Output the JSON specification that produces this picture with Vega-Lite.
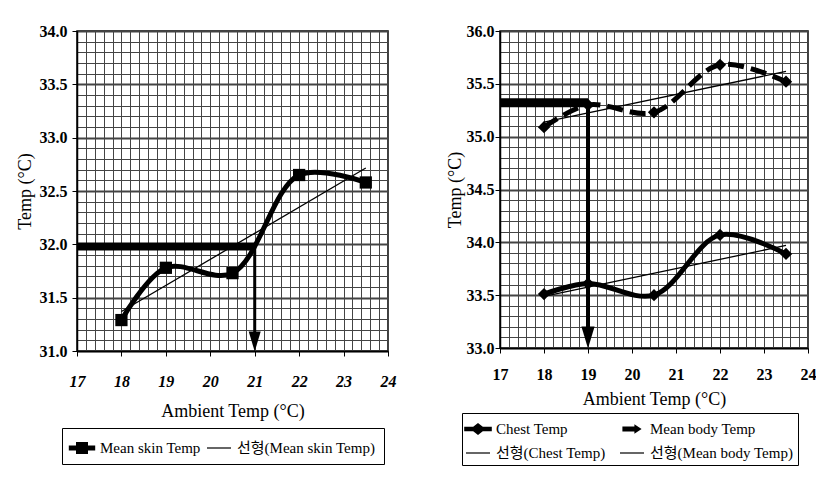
{
  "$schema": "https://vega.github.io/schema/vega-lite/v6.json",
  "padding": {"left": 15, "top": 22, "right": 0, "bottom": 0},
  "spacing": 48,
  "datasets": {
    "skin": [{"t": 18, "v": 31.29}, {"t": 19, "v": 31.78}, {"t": 20.5, "v": 31.73}, {"t": 22, "v": 32.65}, {"t": 23.5, "v": 32.58}],
    "chest": [{"t": 18, "v": 33.51}, {"t": 19, "v": 33.61}, {"t": 20.5, "v": 33.5}, {"t": 22, "v": 34.07}, {"t": 23.5, "v": 33.89}],
    "body": [{"t": 18, "v": 35.09}, {"t": 19, "v": 35.3}, {"t": 20.5, "v": 35.23}, {"t": 22, "v": 35.68}, {"t": 23.5, "v": 35.52}]
  },
  "hconcat": [
    {
      "width": 311,
      "height": 320,
      "encoding": {
        "x": {
          "field": "t", "type": "quantitative",
          "scale": {"domain": [17, 24], "nice": false, "zero": false},
          "axis": {
            "title": "Ambient Temp (°C)",
            "values": [17, 17.2, 17.4, 17.6, 17.8, 18, 18.2, 18.4, 18.6, 18.8, 19, 19.2, 19.4, 19.6, 19.8, 20, 20.2, 20.4, 20.6, 20.8, 21, 21.2, 21.4, 21.6, 21.8, 22, 22.2, 22.4, 22.6, 22.8, 23, 23.2, 23.4, 23.6, 23.8, 24],
            "labelExpr": "abs(datum.value - round(datum.value)) < 0.001 ? format(datum.value, 'd') : ''",
            "tickColor": {"condition": {"test": "abs(datum.value - round(datum.value)) < 0.001", "value": "black"}, "value": "transparent"},
            "tickSize": 5,
            "labelPadding": 17,
            "labelFontStyle": "italic",
            "titlePadding": 13
          }
        },
        "y": {
          "field": "v", "type": "quantitative",
          "scale": {"domain": [31, 34], "nice": false, "zero": false},
          "axis": {
            "title": "Temp (°C)",
            "values": [31, 31.1, 31.2, 31.3, 31.4, 31.5, 31.6, 31.7, 31.8, 31.9, 32, 32.1, 32.2, 32.3, 32.4, 32.5, 32.6, 32.7, 32.8, 32.9, 33, 33.1, 33.2, 33.3, 33.4, 33.5, 33.6, 33.7, 33.8, 33.9, 34],
            "labelExpr": "abs(datum.value * 2 - round(datum.value * 2)) < 0.001 ? format(datum.value, '.1f') : ''",
            "gridWidth": {"condition": {"test": "abs(datum.value * 2 - round(datum.value * 2)) < 0.001", "value": 1.8}, "value": 1},
            "tickColor": {"condition": {"test": "abs(datum.value * 2 - round(datum.value * 2)) < 0.001", "value": "black"}, "value": "transparent"},
            "tickSize": 5,
            "labelPadding": 5,
            "titlePadding": 5
          }
        }
      },
      "layer": [
        {"data": {"name": "skin"}, "transform": [{"regression": "v", "on": "t"}], "mark": {"type": "line", "color": "black", "strokeWidth": 1.3}},
        {"data": {"name": "skin"}, "mark": {"type": "line", "color": "black", "strokeWidth": 5, "interpolate": "catmull-rom"}},
        {"data": {"name": "skin"}, "mark": {"type": "point", "shape": "square", "filled": true, "color": "black", "size": 150, "opacity": 1}},
        {"data": {"values": [{"t": 17, "v": 31.98}, {"t": 21, "v": 31.98}]}, "mark": {"type": "line", "color": "black", "strokeWidth": 8, "strokeCap": "butt"}},
        {"data": {"values": [{"t": 21, "v": 31.98}, {"t": 21, "v": 31.15}]}, "mark": {"type": "line", "color": "black", "strokeWidth": 3}},
        {"data": {"values": [{"t": 21, "v": 31.09}]}, "mark": {"type": "point", "shape": "M-0.6,-1L0.6,-1L0,1Z", "filled": true, "color": "black", "size": 400, "opacity": 1}},
        {
          "data": {"values": []},
          "mark": {"type": "point", "filled": true, "color": "black", "size": 576, "opacity": 1},
          "encoding": {
            "shape": {
              "field": "s", "type": "nominal",
              "scale": {
                "domain": ["Mean skin Temp", "선형(Mean skin Temp)"],
                "range": ["M-1.1,-0.2H-0.5V-0.5H0.5V-0.2H1.1V0.2H0.5V0.5H-0.5V0.2H-1.1Z", "M-1,-0.05H1V0.05H-1Z"]
              },
              "legend": {"title": null, "orient": "none", "legendX": -15, "legendY": 397, "direction": "horizontal", "columns": 2, "padding": 8}
            }
          }
        }
      ]
    },
    {
      "width": 308,
      "height": 317,
      "encoding": {
        "x": {
          "field": "t", "type": "quantitative",
          "scale": {"domain": [17, 24], "nice": false, "zero": false},
          "axis": {
            "title": "Ambient Temp (°C)",
            "values": [17, 17.2, 17.4, 17.6, 17.8, 18, 18.2, 18.4, 18.6, 18.8, 19, 19.2, 19.4, 19.6, 19.8, 20, 20.2, 20.4, 20.6, 20.8, 21, 21.2, 21.4, 21.6, 21.8, 22, 22.2, 22.4, 22.6, 22.8, 23, 23.2, 23.4, 23.6, 23.8, 24],
            "labelExpr": "abs(datum.value - round(datum.value)) < 0.001 ? format(datum.value, 'd') : ''",
            "tickColor": {"condition": {"test": "abs(datum.value - round(datum.value)) < 0.001", "value": "black"}, "value": "transparent"},
            "tickSize": 5,
            "labelPadding": 13,
            "titlePadding": 8
          }
        },
        "y": {
          "field": "v", "type": "quantitative",
          "scale": {"domain": [33, 36], "nice": false, "zero": false},
          "axis": {
            "title": "Temp (°C)",
            "values": [33, 33.1, 33.2, 33.3, 33.4, 33.5, 33.6, 33.7, 33.8, 33.9, 34, 34.1, 34.2, 34.3, 34.4, 34.5, 34.6, 34.7, 34.8, 34.9, 35, 35.1, 35.2, 35.3, 35.4, 35.5, 35.6, 35.7, 35.8, 35.9, 36],
            "labelExpr": "abs(datum.value * 2 - round(datum.value * 2)) < 0.001 ? format(datum.value, '.1f') : ''",
            "gridWidth": {"condition": {"test": "abs(datum.value * 2 - round(datum.value * 2)) < 0.001", "value": 1.8}, "value": 1},
            "tickColor": {"condition": {"test": "abs(datum.value * 2 - round(datum.value * 2)) < 0.001", "value": "black"}, "value": "transparent"},
            "tickSize": 5,
            "labelPadding": 1,
            "titlePadding": 2
          }
        }
      },
      "layer": [
        {"data": {"name": "chest"}, "transform": [{"regression": "v", "on": "t"}], "mark": {"type": "line", "color": "black", "strokeWidth": 1.3}},
        {"data": {"name": "body"}, "transform": [{"regression": "v", "on": "t"}], "mark": {"type": "line", "color": "black", "strokeWidth": 1.3}},
        {"data": {"name": "chest"}, "mark": {"type": "line", "color": "black", "strokeWidth": 5, "interpolate": "catmull-rom"}},
        {"data": {"name": "chest"}, "mark": {"type": "point", "shape": "diamond", "filled": true, "color": "black", "size": 150, "opacity": 1}},
        {"data": {"name": "body"}, "mark": {"type": "line", "color": "black", "strokeWidth": 5, "strokeDash": [16, 7], "interpolate": "catmull-rom"}},
        {"data": {"name": "body"}, "mark": {"type": "point", "shape": "diamond", "filled": true, "color": "black", "size": 150, "opacity": 1}},
        {"data": {"values": [{"t": 17, "v": 35.32}, {"t": 19, "v": 35.32}]}, "mark": {"type": "line", "color": "black", "strokeWidth": 9, "strokeCap": "butt"}},
        {"data": {"values": [{"t": 19, "v": 35.32}, {"t": 19, "v": 33.15}]}, "mark": {"type": "line", "color": "black", "strokeWidth": 4}},
        {"data": {"values": [{"t": 19, "v": 33.1}]}, "mark": {"type": "point", "shape": "M-0.6,-1L0.6,-1L0,1Z", "filled": true, "color": "black", "size": 484, "opacity": 1}},
        {
          "data": {"values": []},
          "mark": {"type": "point", "filled": true, "color": "black", "size": 576, "opacity": 1},
          "encoding": {
            "shape": {
              "field": "s", "type": "nominal",
              "scale": {
                "domain": ["Chest Temp", "Mean body Temp", "선형(Chest Temp)", "선형(Mean body Temp)"],
                "range": ["M-1.15,-0.18H-0.4L0,-0.5L0.4,-0.18H1.15V0.18H0.4L0,0.5L-0.4,0.18H-1.15Z", "M-0.8,-0.2H0.2V-0.4L0.8,0L0.2,0.4V0.2H-0.8Z", "M-1,-0.05H1V0.05H-1Z", "M-1,-0.05H1V0.05H-1Z"]
              },
              "legend": {"title": null, "orient": "none", "legendX": -38, "legendY": 382, "direction": "horizontal", "columns": 2, "padding": 4, "columnPadding": 14}
            }
          }
        }
      ]
    }
  ],
  "resolve": {"scale": {"shape": "independent"}, "legend": {"shape": "independent"}},
  "config": {
    "font": "Liberation Serif",
    "background": "white",
    "view": {"stroke": "black", "strokeWidth": 1.5},
    "axis": {
      "grid": true,
      "gridColor": "#444",
      "gridWidth": 1,
      "gridOpacity": 1,
      "domainColor": "black",
      "domainWidth": 1.5,
      "labelColor": "black",
      "labelFont": "Liberation Serif",
      "labelFontSize": 16,
      "labelFontWeight": "bold",
      "labelOverlap": false,
      "labelBound": false,
      "labelFlush": false,
      "titleColor": "black",
      "titleFont": "Liberation Serif",
      "titleFontSize": 18,
      "titleFontWeight": "normal"
    },
    "legend": {
      "strokeColor": "black",
      "labelFont": "Liberation Serif, Noto Sans CJK KR",
      "labelFontSize": 15,
      "labelColor": "black",
      "labelLimit": 300,
      "symbolSize": 576,
      "symbolStrokeWidth": 0,
      "symbolFillColor": "black",
      "labelOffset": 6,
      "columnPadding": 6,
      "rowPadding": 4
    }
  }
}
